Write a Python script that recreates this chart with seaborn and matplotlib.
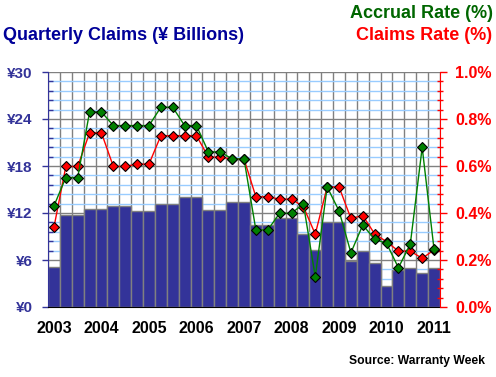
import numpy as np
import pandas as pd
import matplotlib
matplotlib.use('Agg')
import matplotlib.pyplot as plt
import seaborn as sns
from matplotlib.ticker import MultipleLocator, FixedLocator, FuncFormatter

# Quarterly data, 2003 Q1 .. 2011 Q1
quarters = list(range(33))
claims = [5.15, 11.8, 11.8, 12.5, 12.5, 12.9, 12.9, 12.25, 12.25, 13.15, 13.15,
          14.1, 14.1, 12.4, 12.4, 13.4, 13.4, 10.5, 10.5, 11.35, 11.35, 9.3,
          7.25, 10.8, 10.8, 5.9, 7.15, 5.6, 2.65, 4.72, 4.94, 4.3, 4.94]
accrual_rate = [0.43, 0.551, 0.551, 0.83, 0.83, 0.772, 0.772, 0.772, 0.772, 0.85, 0.85,
                0.772, 0.772, 0.66, 0.66, 0.63, 0.63, 0.328, 0.328, 0.399, 0.399, 0.439,
                0.128, 0.511, 0.409, 0.231, 0.349, 0.288, 0.271, 0.167, 0.268, 0.679, 0.245]
claims_rate = [0.339, 0.598, 0.598, 0.741, 0.741, 0.598, 0.598, 0.608, 0.608, 0.729, 0.729,
               0.729, 0.729, 0.638, 0.638, 0.63, 0.63, 0.469, 0.469, 0.459, 0.459, 0.427,
               0.31, 0.511, 0.511, 0.377, 0.389, 0.311, 0.278, 0.238, 0.238, 0.207, 0.243]
year_labels = ['2003', '2004', '2005', '2006', '2007', '2008', '2009', '2010', '2011']

df = pd.DataFrame({'q': quarters, 'claims': claims,
                   'accrual': accrual_rate, 'claims_rate': claims_rate})

sns.set_style('white')
plt.rcParams['font.family'] = ['Liberation Sans', 'DejaVu Sans']
plt.rcParams['font.weight'] = 'bold'

W, H = 496, 377
fig = plt.figure(figsize=(W / 100, H / 100), dpi=100)
ax = fig.add_axes([48 / W, 70 / H, 392 / W, 235 / H])
ax.set_axisbelow(True)

# bars for quarterly claims
sns.barplot(data=df, x='q', y='claims', color='#333399', width=1.0, saturation=1,
            edgecolor='#808080', linewidth=1, ax=ax)
ax.set_xlim(-0.5, 32.5)
ax.set_ylim(0, 30)
ax.set_xlabel('')
ax.set_ylabel('')

# y ticks / grid
ax.yaxis.set_major_locator(MultipleLocator(6))
ax.yaxis.set_minor_locator(MultipleLocator(1.2))
ax.yaxis.set_major_formatter(FuncFormatter(lambda v, p: '¥%d' % round(v)))
ax.yaxis.grid(True, which='major', color='#808080', lw=1)
ax.yaxis.grid(True, which='minor', color='#99CCFF', lw=1)
ax.tick_params(axis='y', which='major', direction='out', length=4, width=1,
               color='#333399', labelcolor='#333399', labelsize=11, pad=7)
ax.tick_params(axis='y', which='minor', direction='in', length=3.5, width=1,
               color='#333399')

# x ticks: year labels at Q1, tick marks at bar edges
ax.xaxis.set_major_locator(FixedLocator(range(0, 33, 4)))
ax.set_xticklabels(year_labels)
ax.xaxis.set_minor_locator(FixedLocator(np.arange(-0.5, 33, 1)))
ax.xaxis.grid(True, which='minor', color='#808080', lw=1)
ax.xaxis.grid(False, which='major')
ax.tick_params(axis='x', which='major', length=0, labelsize=11.5, labelcolor='black', pad=10)
ax.tick_params(axis='x', which='minor', direction='out', length=3, width=1, color='black')

ax.spines['left'].set_color('#333399')
ax.spines['bottom'].set_color('black')
ax.spines['top'].set_visible(False)
ax.spines['right'].set_visible(False)

# rates on the right axis
ax2 = ax.twinx()
sns.lineplot(data=df, x='q', y='claims_rate', ax=ax2, color='#FF0000', lw=1,
             marker='D', markersize=5, markerfacecolor='#FF0000',
             markeredgecolor='black', markeredgewidth=0.8)
sns.lineplot(data=df, x='q', y='accrual', ax=ax2, color='#008000', lw=1,
             marker='D', markersize=5, markerfacecolor='#008000',
             markeredgecolor='black', markeredgewidth=0.8)
ax2.set_xlim(-0.5, 32.5)
ax2.set_ylim(0, 1.0)
ax2.set_xlabel('')
ax2.set_ylabel('')
ax2.yaxis.set_major_locator(MultipleLocator(0.2))
ax2.yaxis.set_minor_locator(MultipleLocator(0.04))
ax2.yaxis.set_major_formatter(FuncFormatter(lambda v, p: '%.1f%%' % v))
ax2.tick_params(axis='y', which='major', direction='out', length=5, width=1,
                color='#FF0000', labelcolor='#FF0000', labelsize=11.5, pad=6)
ax2.tick_params(axis='y', which='minor', direction='inout', length=4, width=1,
                color='#FF0000')
for s in ['left', 'top', 'bottom']:
    ax2.spines[s].set_visible(False)
ax2.spines['right'].set_color('#FF0000')

# titles
fig.text(3 / W, 1 - 35 / H, 'Quarterly Claims (¥ Billions)', color='#000099',
         fontsize=13, fontweight='bold', ha='left', va='center')
fig.text(493 / W, 1 - 13 / H, 'Accrual Rate (%)', color='#006600',
         fontsize=13, fontweight='bold', ha='right', va='center')
fig.text(492 / W, 1 - 35 / H, 'Claims Rate (%)', color='#FF0000',
         fontsize=13, fontweight='bold', ha='right', va='center')
fig.text(485 / W, 1 - 361 / H, 'Source: Warranty Week', color='black',
         fontsize=8.7, fontweight='bold', ha='right', va='center')

fig.savefig('out.png', dpi=100)
